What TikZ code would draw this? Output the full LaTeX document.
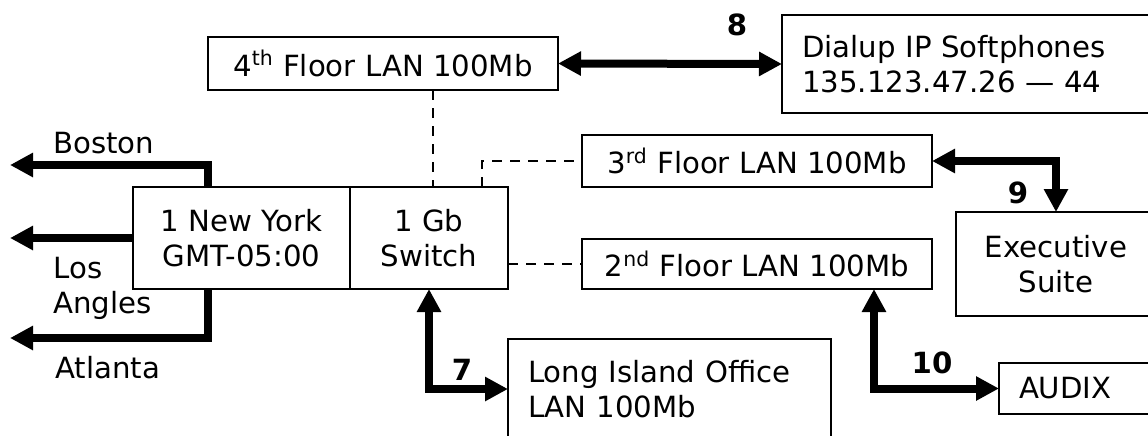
\documentclass[tikz,border=0pt]{standalone}
\usepackage{fontspec}
\setmainfont{DejaVu Sans}
\usetikzlibrary{arrows.meta}

\begin{document}
\begin{tikzpicture}[x=0.5pt, y=-0.5pt,
  box/.style={draw, line width=1pt, inner sep=0pt, outer sep=0pt, align=center, font=\fontsize{14.6}{17.5}\selectfont},
  lbox/.style={box, align=left, inner xsep=10pt},
  place/.style={font=\fontsize{14.6}{17.5}\selectfont, inner sep=0pt, align=left, anchor=west},
  num/.style={font=\fontsize{14.6}{17.5}\selectfont\bfseries, inner sep=0pt},
  fat/.style={line width=4pt, -{Triangle[length=11.5pt, width=11.5pt]}},
  fatboth/.style={line width=4pt, {Triangle[length=11.5pt, width=11.5pt]}-{Triangle[length=11.5pt, width=11.5pt]}},
  dash line/.style={line width=1pt, dash pattern=on 5pt off 4pt}]

\useasboundingbox (0,0) rectangle (1148,435);

% New York site and its switch
\node (ny) at (241.5,238) [box, minimum width=108.5pt, minimum height=51pt] {1 New York\\GMT-05:00};
\node (sw) at (429,238)   [box, minimum width=79pt, minimum height=51pt] {1 Gb\\Switch};

% floor LANs
\node (f4) at (383,63.5) [box, minimum width=175pt, minimum height=26.5pt] {4\textsuperscript{th} Floor LAN 100Mb};
\node (f3) at (757,161)  [box, minimum width=175pt, minimum height=26pt] {3\textsuperscript{rd} Floor LAN 100Mb};
\node (f2) at (757,264)  [box, minimum width=175pt, minimum height=25pt] {2\textsuperscript{nd} Floor LAN 100Mb};

% far ends of the links
\node (dial)  at (971,64)      [lbox, text width=169pt, minimum height=49pt] {Dialup IP Softphones\\135.123.47.26 — 44};
\node (exec)  at (1056,264)    [box, minimum width=100pt, minimum height=52pt] {Executive\\Suite};
\node (audix) at (1079.5,388.5) [lbox, text width=60.5pt, minimum height=25.5pt] {AUDIX};
\node (li)    at (669.5,389)   [lbox, text width=141.5pt, minimum height=50pt] {Long Island Office\\LAN 100Mb};

% city labels and the free ends of their trunks
\node (bos) at (53,143) [place] {Boston};
\node (los) at (53,288) [place] {Los\\Angles};
\node (atl) at (55,368) [place] {Atlanta};
\coordinate (bosend) at (10,165);
\coordinate (laend)  at (10,238);
\coordinate (atlend) at (10,338);

\draw[fat] ([xshift=-16.75pt]ny.north) |- (bosend);
\draw[fat] (ny.west) -- (laend);
\draw[fat] ([xshift=-16.75pt]ny.south) |- (atlend);

% numbered links
\draw[fatboth] (f4.east) -- (dial.west);
\node (n8) at (737,25) [num] {8};
\draw[fatboth] (sw.south) |- (li.west);
\node (n7) at (462,370) [num] {7};
\draw[fatboth] (f3.east) -| (exec.north);
\node (n9) at (1018,193) [num] {9};
\draw[fatboth] ([xshift=58.5pt]f2.south) |- (audix.west);
\node (n10) at (932,363) [num] {10};

% dashed LAN drops from the switch
\draw[dash line] ([xshift=25pt]f4.south) -- ([xshift=25pt]f4.south |- sw.north);
\draw[dash line] ([xshift=26.5pt]sw.north) |- (f3.west);
\draw[dash line] (f2.west -| sw.east) -- (f2.west);

\end{tikzpicture}
\end{document}
